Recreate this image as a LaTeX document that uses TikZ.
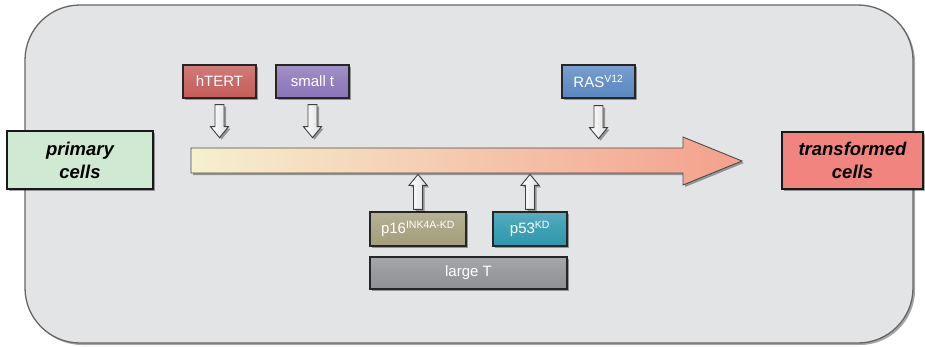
\documentclass[tikz,border=0pt]{standalone}
\usepackage{fontspec}
\setmainfont{Liberation Sans}
\usetikzlibrary{shadows,calc}
\definecolor{bgc}{HTML}{E3E4E6}
\definecolor{greenc}{HTML}{CFE9D2}
\definecolor{redc}{HTML}{F28480}
\definecolor{htertc}{HTML}{C55D5A}
\definecolor{smalltc}{HTML}{8B75B8}
\definecolor{rasc}{HTML}{5A87C2}
\definecolor{p16c}{HTML}{A39F7C}
\definecolor{p53c}{HTML}{2E97AE}
\definecolor{largetc}{HTML}{8F9195}
\definecolor{arrl}{HTML}{F5F0CF}
\definecolor{arrr}{HTML}{F4A08C}
\begin{document}
\begin{tikzpicture}[x=1pt,y=-1pt,
  shad/.style={drop shadow={shadow xshift=2pt,shadow yshift=-2pt,opacity=0.35,fill=black}},
  gene/.style={shad,draw=black!85,line width=1.3pt,minimum height=33pt,inner sep=0pt,
    text=white,font=\fontsize{15}{17}\selectfont,top color=#1!80!white,bottom color=#1,middle color=#1!92!white},
  cellbox/.style={shad,draw=black!90,line width=1.5pt,inner sep=0pt,align=center,
    font=\fontsize{18.5}{23}\selectfont\bfseries\itshape,fill=#1},
  hollow/.style={shad,draw=black!75,line width=0.9pt,left color=white,right color=gray!25,line join=miter},
  pics/downarr/.style={code={\path[hollow] (-4.5,0) -- (4.5,0) -- (4.5,22) -- (9,22) -- (0,33) -- (-9,22) -- (-4.5,22) -- cycle;}},
  pics/uparr/.style={code={\path[hollow] (0,0) -- (9,11) -- (4.5,11) -- (4.5,35) -- (-4.5,35) -- (-4.5,11) -- (-9,11) -- cycle;}}
]
\useasboundingbox (0,0) rectangle (925,346);
% frame
\path[shad,rounded corners=55pt,fill=bgc,draw=black!60,line width=1.3pt] (25,5) rectangle (913,343);
% main arrow
\path[shad,draw=black!70,line width=0.9pt,left color=arrl,right color=arrr,line join=miter]
  (191,148) -- (683,148) -- (683,137) -- (742,161) -- (683,185) -- (683,173) -- (191,173) -- cycle;
\coordinate (arrowtop) at (450,148);
% cells
\node[cellbox=greenc,minimum width=146pt,minimum height=58pt] (primary) at (80,160) {primary\\cells};
\node[cellbox=redc,minimum width=141pt,minimum height=57pt] (transformed) at (852.5,160.5) {transformed\\cells};
% genes
\node[gene=htertc,minimum width=73pt] (htert) at (219.5,81.5) {hTERT};
\node[gene=smalltc,minimum width=73pt] (smallt) at (312.5,81.5) {small t};
\node[gene=rasc,minimum width=73pt] (ras) at (598.5,81.5) {RAS\textsuperscript{V12}};
\node[gene=p16c,minimum width=96pt,minimum height=34pt] (p16) at (418,229) {p16\textsuperscript{INK4A-KD}};
\node[gene=p53c,minimum width=74pt,minimum height=34pt] (p53) at (530,229) {p53\textsuperscript{KD}};
\node[gene=largetc,minimum width=197pt,minimum height=32pt] (larget) at (468.5,273) {large T};
% small arrows
\pic at ($(htert.south)+(0,6)$) {downarr};
\pic at ($(smallt.south)+(0,6)$) {downarr};
\pic at ($(ras.south)+(0,7)$) {downarr};
\pic at ($(p16.north)+(0,-37)$) {uparr};
\pic at ($(p53.north)+(0,-37)$) {uparr};
\end{tikzpicture}
\end{document}
